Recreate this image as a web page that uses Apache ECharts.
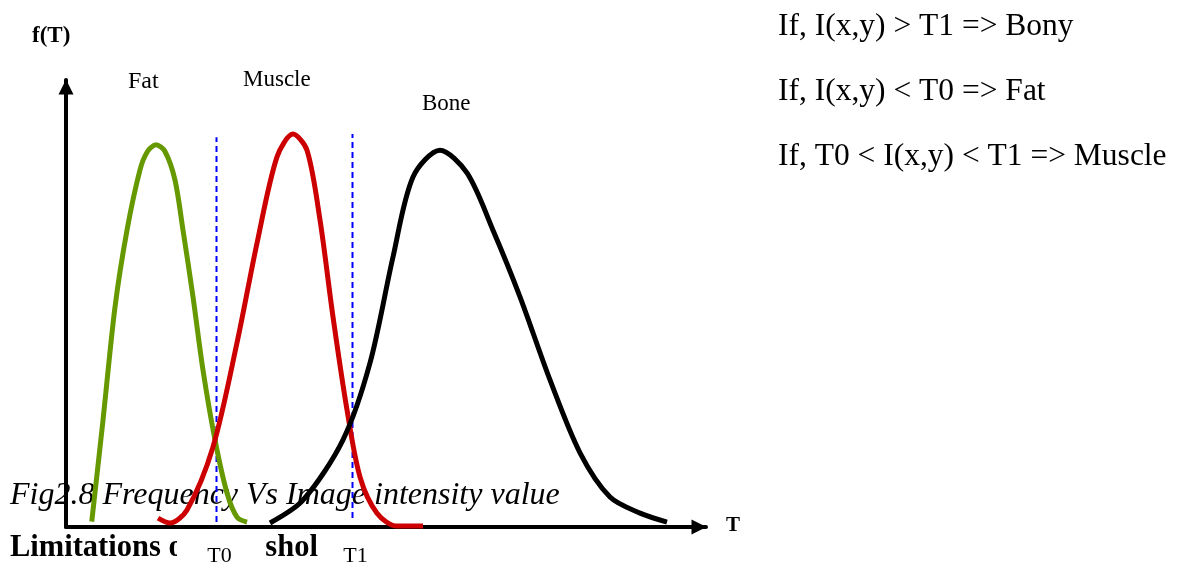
<!DOCTYPE html>
<html>
<head>
<meta charset="utf-8">
<title>Frequency Vs Image intensity value</title>
<script src="https://cdn.jsdelivr.net/npm/echarts@6/dist/echarts.min.js"></script>
<style>
  html, body { margin: 0; padding: 0; background: #fff; }
  #chart { width: 1180px; height: 567px; }
</style>
</head>
<body>
<div id="chart"></div>
<script>
// T runs 0..256 (intensity), f(T) runs 0..100 (relative frequency)
var fatCurve = [
  [10.3, 1.2], [14.8, 23.9], [19.6, 49.2], [24.4, 66.4], [29.6, 79.9],
  [32.6, 84.0], [36, 85.5], [39.6, 84.0], [43.6, 77.6], [46.8, 66.4],
  [50.8, 51.5], [54.8, 35.1], [59.6, 19.5], [64.4, 7.6], [68.4, 2.2], [72.4, 1.1]
];
var muscleCurve = [
  [36.8, 2.0], [41.6, 0.9], [48.4, 3.8], [58.8, 17.9], [68.4, 41.2], [76.4, 63.5],
  [84.4, 82.8], [90.8, 87.9], [96.4, 84.3], [101.6, 68.7],
  [106.8, 47.0], [112.4, 26.2], [117.6, 11.2], [124.4, 3.1], [132.4, 0.2], [142.8, 0.2]
];
var boneCurve = [
  [81.6, 0.9], [94.8, 6.0], [110.8, 19.5], [121.6, 36.7], [130.8, 60.4], [138.8, 78.3],
  [149.6, 84.3], [160.4, 79.2], [170.8, 66.4], [181.6, 51.5],
  [193.6, 32.9], [205.6, 16.6], [217.6, 6.7], [229.6, 3.1], [240.4, 1.1]
];
var thresholdNames = ['T0', 'T1'];
var thresholdValues = [60.2, 114.6];
var thresholdTop = [87.2, 87.9];
var thresholdBottom = [1.1, 2.0];
var rules = [
  'If, I(x,y) > T1 => Bony',
  'If, I(x,y) < T0 => Fat',
  'If, T0 < I(x,y) < T1 => Muscle'
];

var serif = 'Liberation Serif, Times New Roman, serif';

var chart = echarts.init(document.getElementById('chart'));

function curve(name, data, color) {
  return {
    name: name,
    type: 'line',
    data: data,
    smooth: 0.3,
    smoothConstraint: false,
    showSymbol: false,
    lineStyle: {color: color, width: 5},
    z: 3
  };
}

var series = [
  curve('Fat', fatCurve, '#669900'),
  curve('Muscle', muscleCurve, '#cc0000'),
  curve('Bone', boneCurve, '#000000')
];
thresholdValues.forEach(function (t, i) {
  series.push({
    name: thresholdNames[i],
    type: 'line',
    data: [[t, thresholdBottom[i]], [t, thresholdTop[i]]],
    showSymbol: false,
    lineStyle: {color: '#0000ff', width: 2, type: [6, 4]},
    z: 2
  });
});

function txt(x, y, text, size, opts) {
  opts = opts || {};
  return {
    type: 'text',
    x: x,
    y: y,
    z: opts.z == null ? 5 : opts.z,
    style: {
      text: text,
      font: (opts.italic ? 'italic ' : '') + (opts.bold ? 'bold ' : '') + size + 'px ' + serif,
      fill: '#000',
      align: opts.align || 'left',
      verticalAlign: 'middle'
    }
  };
}

var graphics = [
  // caption text from the page, sits under the axes and curves
  txt(10, 496, 'Fig2.8 Frequency Vs Image intensity value', 32, {italic: true, z: -1}),
  txt(10, 548, 'Limitations of Threshold', 30.5, {bold: true, z: -1}),
  txt(32, 36, 'f(T)', 23, {bold: true}),
  txt(733, 526, 'T', 21, {bold: true, align: 'center'}),
  txt(128, 82, 'Fat', 24),
  txt(243, 80, 'Muscle', 23),
  txt(422, 104, 'Bone', 23)
];
rules.forEach(function (r, i) {
  graphics.push(txt(778, 27 + i * 65, r, 31.5));
});

// white boxes under T0 / T1, they hide part of the caption line
var boxLeft = [177, 319];
var boxRight = [265, 392];

var option = {
  backgroundColor: '#fff',
  animation: false,
  grid: {left: 66, right: 474, top: 80, bottom: 40},
  xAxis: {
    type: 'value',
    min: 0,
    max: 256,
    axisLine: {
      lineStyle: {color: '#000', width: 4},
      symbol: ['none', 'triangle'],
      symbolSize: [15, 15],
      symbolOffset: [0, -7]
    },
    axisTick: {show: false},
    axisLabel: {show: false},
    splitLine: {show: false}
  },
  yAxis: {
    type: 'value',
    min: 0,
    max: 100,
    axisLine: {
      show: true,
      lineStyle: {color: '#000', width: 4},
      symbol: ['none', 'triangle'],
      symbolSize: [15, 15],
      symbolOffset: [0, -7]
    },
    axisTick: {show: false},
    axisLabel: {show: false},
    splitLine: {show: false}
  },
  series: series,
  graphic: graphics
};
chart.setOption(option);

// T0 / T1 labels sit under their dashed lines
var labelGraphics = [];
thresholdValues.forEach(function (t, i) {
  var px = chart.convertToPixel({gridIndex: 0}, [t, 0])[0];
  labelGraphics.push({
    type: 'rect',
    z: 10,
    shape: {x: boxLeft[i], y: 531, width: boxRight[i] - boxLeft[i], height: 36},
    style: {fill: '#fff'}
  });
  labelGraphics.push(txt(px + 3, 556, thresholdNames[i], 22, {align: 'center', z: 11}));
});
chart.setOption({graphic: graphics.concat(labelGraphics)});
</script>
</body>
</html>
